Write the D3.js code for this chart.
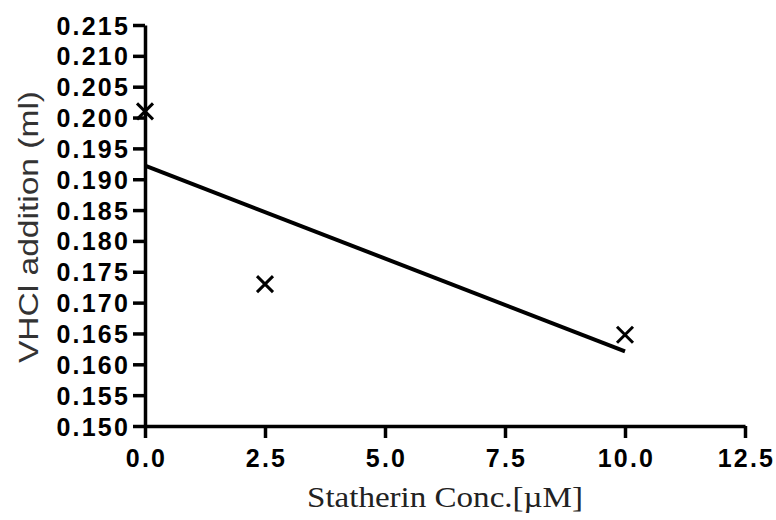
<!DOCTYPE html>
<html><head><meta charset="utf-8">
<script src="https://cdn.jsdelivr.net/npm/d3@7"></script>
<style>body{margin:0;background:#fff}svg{display:block}</style>
</head><body>
<script>
const pointX = [0, 2.5, 10];
const pointY = [0.201, 0.173, 0.1648];
const fitX = [0, 10];
const fitY = [0.1922, 0.1621];
const xTicks = [0, 2.5, 5, 7.5, 10, 12.5];
const yTicks = [0.150,0.155,0.160,0.165,0.170,0.175,0.180,0.185,0.190,0.195,0.200,0.205,0.210,0.215];
const xTitle = "Statherin Conc.[\u00b5M]";
const yTitle = "VHCl addition (ml)";

const W = 776, H = 520;
const svg = d3.select("body").append("svg").attr("width", W).attr("height", H);
const x = d3.scaleLinear().domain([0, 12.5]).range([145, 745]);
const y = d3.scaleLinear().domain([0.150, 0.215]).range([426, 25]);

const xAxis = svg.append("g").attr("transform", "translate(0,426)")
  .call(d3.axisBottom(x).tickValues(xTicks).tickFormat(d3.format(".1f")).tickSize(12).tickPadding(11).tickSizeOuter(0));
const yAxis = svg.append("g").attr("transform", "translate(145,0)")
  .call(d3.axisLeft(y).tickValues(yTicks).tickFormat(d3.format(".3f")).tickSize(12).tickPadding(3).tickSizeOuter(0));
[xAxis, yAxis].forEach(g => {
  g.selectAll("path.domain").attr("stroke", "#000").attr("stroke-width", 3.5);
  g.selectAll(".tick line").attr("stroke", "#000").attr("stroke-width", 3.5);
  g.selectAll(".tick text").attr("fill", "#000")
    .style("font-family", "Liberation Sans, Arial, sans-serif")
    .style("font-weight", "bold").style("font-size", "25px").style("letter-spacing", "2.2px");
});
yAxis.selectAll(".tick text").attr("dy", "0.36em");
xAxis.selectAll(".tick text").attr("dy", "0.71em").attr("dx", "1px");

// fit line
svg.append("path")
  .datum(fitX.map((d, i) => [d, fitY[i]]))
  .attr("d", d3.line().x(d => x(d[0])).y(d => y(d[1])))
  .attr("stroke", "#000").attr("stroke-width", 4).attr("fill", "none");

// points
const s = 8;
const pts = svg.append("g").selectAll("g").data(pointX.map((d, i) => [d, pointY[i]])).join("g")
  .attr("transform", d => `translate(${x(d[0])},${y(d[1])})`);
pts.append("path").attr("d", `M${-s},${-s}L${s},${s}M${-s},${s}L${s},${-s}`)
  .attr("stroke", "#000").attr("stroke-width", 3).attr("fill", "none");

svg.append("text").attr("x", 307).attr("y", 507)
  .attr("textLength", 276).attr("lengthAdjust", "spacingAndGlyphs")
  .style("font-family", "Liberation Serif, Times New Roman, serif").style("font-size", "30px").attr("fill", "#222")
  .text(xTitle);
svg.append("text").attr("transform", "translate(38,363) rotate(-90)")
  .attr("textLength", 272).attr("lengthAdjust", "spacingAndGlyphs")
  .style("font-family", "Liberation Sans, Arial, sans-serif").style("font-size", "28px").attr("fill", "#333")
  .text(yTitle);
</script>
</body></html>
